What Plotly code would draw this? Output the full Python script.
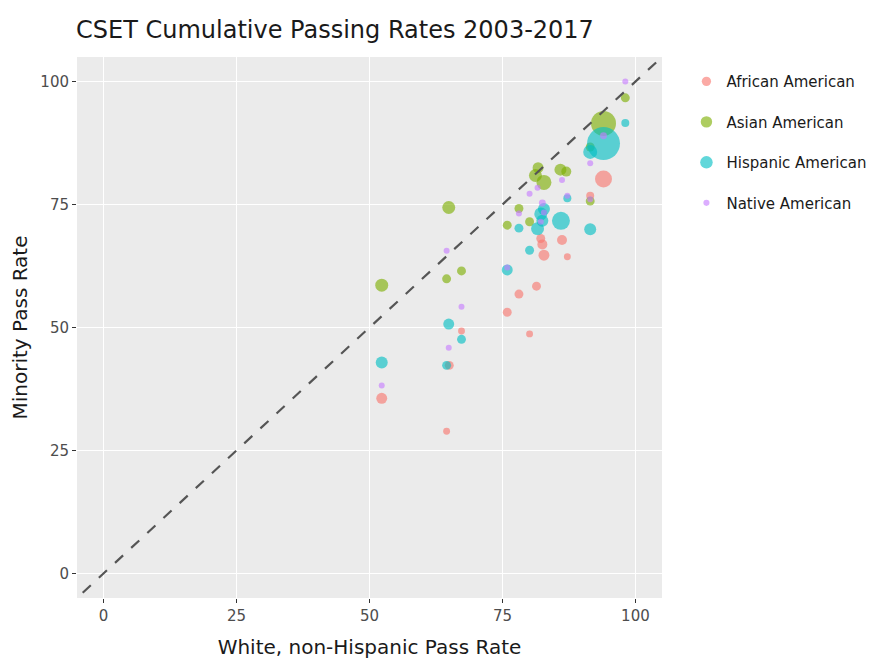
import math
import plotly.graph_objects as go

# ---- data ----
groups = ["African American", "Asian American", "Hispanic American", "Native American"]

aa_white = [52.3, 64.5, 65.0, 67.3, 75.9, 78.1, 80.1, 81.4, 82.2, 82.5, 82.8, 86.2, 87.2, 91.5, 94.0]
aa_minor = [35.6, 28.9, 42.3, 49.3, 53.1, 56.8, 48.7, 58.4, 68.1, 66.9, 64.7, 67.8, 64.4, 76.8, 80.2]
aa_n = [3000, 1200, 2000, 1200, 2000, 2000, 1200, 2000, 2000, 2500, 3000, 2500, 1200, 1600, 7200]

as_white = [52.3, 64.9, 64.5, 67.3, 75.9, 78.1, 80.1, 81.7, 81.2, 82.8, 85.9, 87.0, 91.5, 91.5, 94.0, 98.1]
as_minor = [58.6, 74.4, 59.9, 61.5, 70.8, 74.2, 71.5, 82.5, 80.9, 79.5, 82.1, 81.7, 86.7, 75.7, 91.5, 96.7]
as_n = [4200, 4200, 2000, 2000, 2000, 2000, 2000, 3000, 4200, 5600, 3600, 2500, 2000, 2000, 15600, 2000]

hi_white = [52.3, 64.9, 64.5, 67.3, 75.9, 78.1, 80.1, 81.6, 82.8, 82.2, 82.5, 86.0, 87.2, 91.5, 91.5, 94.0, 98.1]
hi_minor = [42.9, 50.7, 42.3, 47.6, 61.7, 70.2, 65.7, 70.1, 74.1, 73.1, 71.7, 71.7, 76.3, 85.7, 70.0, 87.4, 91.6]
hi_n = [3600, 3000, 2000, 2000, 3000, 2000, 2000, 4200, 3600, 4200, 3600, 8100, 1600, 4900, 3600, 27200, 1600]

na_white = [52.3, 64.5, 64.9, 67.3, 75.9, 78.1, 80.1, 81.6, 82.5, 82.8, 82.2, 86.2, 87.2, 91.5, 91.5, 94.0, 98.1]
na_minor = [38.2, 65.6, 45.9, 54.2, 62.2, 73.2, 77.2, 78.4, 75.3, 73.4, 71.5, 80.0, 76.8, 83.4, 76.1, 89.0, 100.0]
na_n = [900, 900, 900, 900, 900, 900, 900, 900, 1200, 900, 900, 900, 900, 900, 900, 1200, 900]

diag = [-10, 110]  # reference line y = x
ticks = [0, 25, 50, 75, 100]

colors = ["#F8766D", "#7CAE00", "#00BFC4", "#C77CFF"]
series = [(aa_white, aa_minor, aa_n), (as_white, as_minor, as_n),
          (hi_white, hi_minor, hi_n), (na_white, na_minor, na_n)]

FONT = "DejaVu Sans"
W, H = 875, 655  # page body adds an 8px margin

fig = go.Figure()
for name, col, (wx, my, n) in zip(groups, colors, series):
    sizes = [math.sqrt(v) / 5.0 for v in n]  # area-proportional size scale
    fig.add_trace(go.Scatter(
        x=wx, y=my, mode="markers", name=name, legendgroup=name,
        marker=dict(color=col, size=sizes, sizemode="diameter", opacity=0.62,
                    line=dict(width=0)),
    ))

fig.add_trace(go.Scatter(
    x=diag, y=diag, mode="lines", showlegend=False, hoverinfo="skip",
    line=dict(color="#555555", width=2.2, dash="11px,11px"),
))

axis_common = dict(
    range=[-5, 105], tickvals=ticks, ticktext=[str(t) for t in ticks],
    showgrid=True, gridcolor="white", gridwidth=1.2, zeroline=False,
    ticks="outside", ticklen=4, tickwidth=1, tickcolor="#333333",
    tickfont=dict(family=FONT, size=15, color="#4D4D4D"),
    showline=False, automargin=False,
)

fig.update_layout(
    width=W, height=H,
    margin=dict(l=69, r=220, t=49, b=65),
    paper_bgcolor="white", plot_bgcolor="#EBEBEB",
    font=dict(family=FONT, color="#1A1A1A"),
    title=dict(text="CSET Cumulative Passing Rates 2003-2017",
               font=dict(family=FONT, size=24, color="#1A1A1A"),
               x=68 / W, xanchor="left", xref="container",
               y=1 - 22 / H, yanchor="middle", yref="container"),
    xaxis=dict(title=dict(text="White, non-Hispanic Pass Rate",
                          font=dict(family=FONT, size=20, color="#1A1A1A")),
               **axis_common),
    yaxis=dict(title=dict(text="Minority Pass Rate",
                          font=dict(family=FONT, size=20, color="#1A1A1A")),
               **axis_common),
    legend=dict(x=1.04, y=0.985, xanchor="left", yanchor="top",
                font=dict(family=FONT, size=15, color="#1A1A1A"),
                traceorder="grouped", tracegroupgap=18,
                bgcolor="rgba(0,0,0,0)"),
    showlegend=True,
)

fig.write_html("out.html")
